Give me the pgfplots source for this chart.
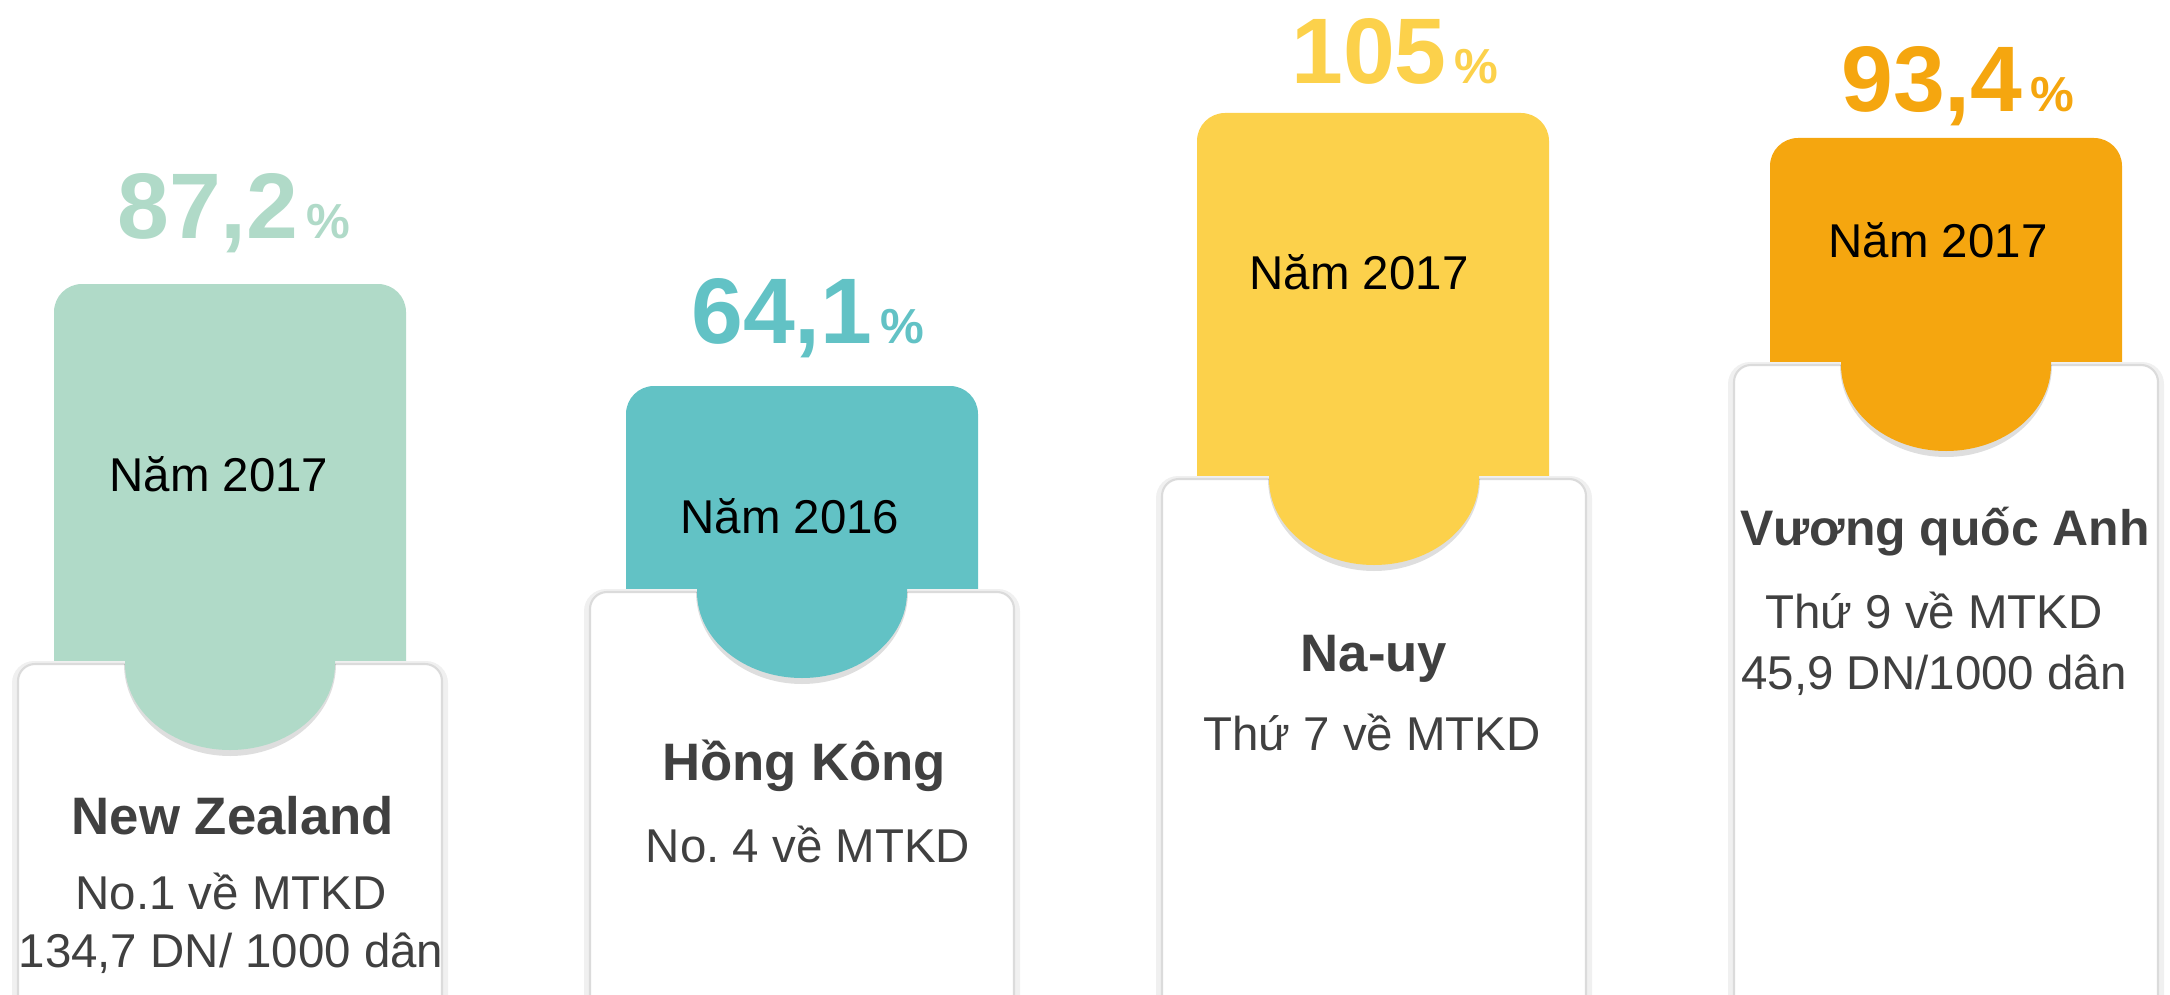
\documentclass[border=0pt]{standalone}
\usepackage{fontspec}
\setmainfont{Liberation Sans}
\usepackage{pgfplots}
\pgfplotsset{compat=1.18}
\definecolor{mint}{HTML}{B0DAC8}
\definecolor{teal}{HTML}{62C2C5}
\definecolor{sun}{HTML}{FCD14B}
\definecolor{amber}{HTML}{F5A60F}
\definecolor{txt}{HTML}{404040}

% half-ellipse tab hanging from the card top
\pgfdeclareplotmark{tab}{%
  \begin{pgfscope}
    \pgfsetfillcolor{black}\pgfsetfillopacity{0.13}
    \pgfpathmoveto{\pgfpoint{-10.6mm}{0mm}}
    \pgfpatharc{180}{360}{10.6mm and 9.2mm}
    \pgfpathclose
    \pgfusepathqfill
  \end{pgfscope}
  \pgfpathmoveto{\pgfpoint{-10.5mm}{0.8mm}}
  \pgfpathlineto{\pgfpoint{-10.5mm}{0mm}}
  \pgfpatharc{180}{360}{10.5mm and 8.6mm}
  \pgfpathlineto{\pgfpoint{10.5mm}{0.8mm}}
  \pgfpathclose
  \pgfusepathqfill
}

\newcommand{\bigval}[1]{\fontsize{26.5}{30}\selectfont\bfseries #1}
\newcommand{\pct}{{\fontsize{14}{16}\selectfont\bfseries\,\%}}

\begin{document}
\frenchspacing
\begin{tikzpicture}
\begin{axis}[
  width=217mm, height=99.4mm, scale only axis,
  xmin=0, xmax=2170, ymin=50, ymax=1044,
  hide axis, clip=true,
  every node near coord/.append style={anchor=base, inner sep=0pt},
]
  % coloured columns (top edge), drawn behind the cards
  \addplot[ybar, bar shift=0pt, bar width=352, fill=mint, draw=none, rounded corners=2.8mm] coordinates {(230,760)};
  \addplot[ybar, bar shift=0pt, bar width=352, fill=teal, draw=none, rounded corners=2.8mm] coordinates {(802,658)};
  \addplot[ybar, bar shift=0pt, bar width=352, fill=sun, draw=none, rounded corners=2.8mm] coordinates {(1373,931)};
  \addplot[ybar, bar shift=0pt, bar width=352, fill=amber, draw=none, rounded corners=2.8mm] coordinates {(1946,906)};

  % white cards with soft shadow (running past the bottom edge)
  \addplot[fill=black!6, draw=none, rounded corners=2.2mm] coordinates {(12,0) (12,383) (448,383) (448,0)} --cycle;
  \addplot[fill=black!6, draw=none, rounded corners=2.2mm] coordinates {(584,0) (584,455) (1020,455) (1020,0)} --cycle;
  \addplot[fill=black!6, draw=none, rounded corners=2.2mm] coordinates {(1156,0) (1156,568) (1592,568) (1592,0)} --cycle;
  \addplot[fill=black!6, draw=none, rounded corners=2.2mm] coordinates {(1728,0) (1728,682) (2164,682) (2164,0)} --cycle;
  \addplot[fill=white, draw=black!14, line width=0.6pt, rounded corners=1.7mm] coordinates {(18,0) (18,380) (442,380) (442,0)} --cycle;
  \addplot[fill=white, draw=black!14, line width=0.6pt, rounded corners=1.7mm] coordinates {(590,0) (590,452) (1014,452) (1014,0)} --cycle;
  \addplot[fill=white, draw=black!14, line width=0.6pt, rounded corners=1.7mm] coordinates {(1162,0) (1162,565) (1586,565) (1586,0)} --cycle;
  \addplot[fill=white, draw=black!14, line width=0.6pt, rounded corners=1.7mm] coordinates {(1734,0) (1734,679) (2158,679) (2158,0)} --cycle;

  % tabs
  \addplot[only marks, mark=tab, mark options={fill=mint, draw=none}] coordinates {(230,380)};
  \addplot[only marks, mark=tab, mark options={fill=teal, draw=none}] coordinates {(802,452)};
  \addplot[only marks, mark=tab, mark options={fill=sun, draw=none}] coordinates {(1374,565)};
  \addplot[only marks, mark=tab, mark options={fill=amber, draw=none}] coordinates {(1946,679)};

  % values
  \addplot[draw=none, point meta=explicit symbolic, nodes near coords={\bigval{\pgfplotspointmeta}\pct},
    every node near coord/.append style={text=mint}] coordinates {(234,806) [87,2]};
  \addplot[draw=none, point meta=explicit symbolic, nodes near coords={\bigval{\pgfplotspointmeta}\pct},
    every node near coord/.append style={text=teal}] coordinates {(808,701) [64,1]};
  \addplot[draw=none, point meta=explicit symbolic, nodes near coords={\bigval{\pgfplotspointmeta}\pct},
    every node near coord/.append style={text=sun}] coordinates {(1395,960) [105]};
  \addplot[draw=none, point meta=explicit symbolic, nodes near coords={\bigval{\pgfplotspointmeta}\pct},
    every node near coord/.append style={text=amber}] coordinates {(1958,932) [93,4]};

  % year labels
  \begin{scope}[every node/.style={anchor=base, inner sep=0pt, font=\fontsize{13.5}{16}\selectfont}]
    \node at (axis cs:219,553) {Năm 2017};
    \node at (axis cs:790,511) {Năm 2016};
    \node at (axis cs:1359,755) {Năm 2017};
    \node at (axis cs:1938,787) {Năm 2017};
  \end{scope}

  % country names
  \begin{scope}[every node/.style={anchor=base, inner sep=0pt, text=txt, font=\fontsize{15}{18}\selectfont\bfseries}]
    \node at (axis cs:233,210) {New Zealand};
    \node at (axis cs:804,264) {Hồng Kông};
    \node at (axis cs:1374,373) {Na-uy};
    \node[font=\fontsize{14.2}{17}\selectfont\bfseries] at (axis cs:1945,499) {Vương quốc Anh};
  \end{scope}

  % rank lines
  \begin{scope}[every node/.style={anchor=base, inner sep=0pt, text=txt, font=\fontsize{13.5}{16}\selectfont}]
    \node at (axis cs:231,135) {No.1 về MTKD};
    \node at (axis cs:231,77) {134,7 DN/ 1000 dân};
    \node at (axis cs:808,182) {No. 4 về MTKD};
    \node at (axis cs:1372,294) {Thứ 7 về MTKD};
    \node at (axis cs:1934,416) {Thứ 9 về MTKD};
    \node at (axis cs:1934,355) {45,9 DN/1000 dân};
  \end{scope}
\end{axis}
\pgfresetboundingbox
\path (current axis.south west) rectangle (current axis.north east);
\end{tikzpicture}
\end{document}
